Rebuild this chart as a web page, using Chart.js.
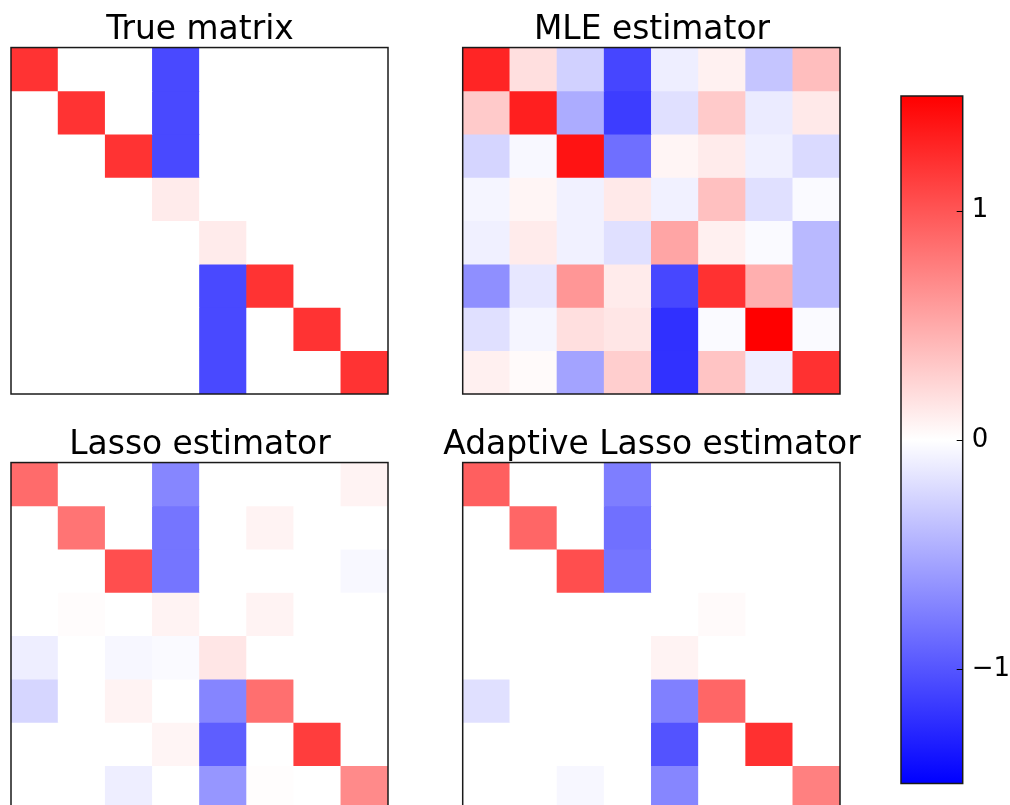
<!DOCTYPE html>
<html>
<head>
<meta charset="utf-8">
<script src="https://cdn.jsdelivr.net/npm/chart.js@4.4.0/dist/chart.umd.min.js"></script>
<style>
html, body { margin: 0; padding: 0; background: #fff; overflow: hidden; width: 1010px; height: 805px; }
canvas { position: absolute; }
</style>
</head>
<body>
<canvas id="true-chart" width="400" height="400" style="left:0px;top:0px"></canvas>
<canvas id="mle-chart" width="440" height="400" style="left:432px;top:0px"></canvas>
<canvas id="lasso-chart" width="400" height="400" style="left:0px;top:415px"></canvas>
<canvas id="adaptive-chart" width="440" height="400" style="left:432px;top:415px"></canvas>
<canvas id="colorbar" width="120" height="720" style="left:890px;top:80px"></canvas>
<script>
const columns = ['0', '1', '2', '3', '4', '5', '6', '7'];

const trueMatrix = [
    [1.2, 0, 0, -1.07, 0, 0, 0, 0],
    [0, 1.2, 0, -1.07, 0, 0, 0, 0],
    [0, 0, 1.2, -1.07, 0, 0, 0, 0],
    [0, 0, 0, 0.12, 0, 0, 0, 0],
    [0, 0, 0, 0, 0.12, 0, 0, 0],
    [0, 0, 0, 0, -1.07, 1.2, 0, 0],
    [0, 0, 0, 0, -1.07, 0, 1.2, 0],
    [0, 0, 0, 0, -1.07, 0, 0, 1.2]
];

const mleMatrix = [
    [1.28, 0.19, -0.27, -1.09, -0.10, 0.08, -0.34, 0.38],
    [0.31, 1.32, -0.49, -1.14, -0.18, 0.31, -0.12, 0.13],
    [-0.25, -0.04, 1.39, -0.85, 0.06, 0.12, -0.09, -0.22],
    [-0.06, 0.06, -0.08, 0.13, -0.08, 0.37, -0.18, -0.03],
    [-0.09, 0.12, -0.08, -0.18, 0.53, 0.09, -0.03, -0.41],
    [-0.66, -0.14, 0.62, 0.12, -1.08, 1.21, 0.47, -0.41],
    [-0.18, -0.06, 0.19, 0.15, -1.22, -0.03, 1.5, -0.03],
    [0.09, 0.03, -0.54, 0.29, -1.21, 0.35, -0.10, 1.21]
];

const lassoMatrix = [
    [0.87, 0, 0, -0.71, 0, 0, 0, 0.07],
    [0, 0.82, 0, -0.81, 0, 0.07, 0, 0],
    [0, 0, 1.04, -0.81, 0, 0, 0, -0.04],
    [0, 0.02, 0, 0.07, 0, 0.07, 0, 0],
    [-0.10, 0, -0.05, -0.03, 0.15, 0, 0, 0],
    [-0.24, 0, 0.07, 0, -0.72, 0.85, 0, 0],
    [0, 0, 0, 0.06, -0.95, 0, 1.14, 0],
    [0, 0, -0.10, 0, -0.62, 0.01, 0, 0.69]
];

const adaptiveMatrix = [
    [0.94, 0, 0, -0.76, 0, 0, 0, 0],
    [0, 0.90, 0, -0.84, 0, 0, 0, 0],
    [0, 0, 1.04, -0.81, 0, 0, 0, 0],
    [0, 0, 0, 0, 0, 0.03, 0, 0],
    [0, 0, 0, 0, 0.07, 0, 0, 0],
    [-0.18, 0, 0, 0, -0.75, 0.90, 0, 0],
    [0, 0, 0, 0, -1.01, 0, 1.22, 0],
    [0, 0, -0.05, 0, -0.71, 0, 0, 0.75]
];

const colorMin = -1.5;
const colorMax = 1.5;
const colorbarTicks = [-1, 0, 1];
// bwr colormap: blue -> white -> red
const cmapStops = [[0, 0, 255], [255, 255, 255], [255, 0, 0]];

const fontFamily = "'DejaVu Sans', sans-serif";

function bwr(v) {
    let t = (v - colorMin) / (colorMax - colorMin);
    t = Math.min(1, Math.max(0, t)) * 2;
    const i = t < 1 ? 0 : 1;
    const f = t - i;
    const a = cmapStops[i], b = cmapStops[i + 1];
    const rgb = a.map((c, k) => Math.round(c + (b[k] - c) * f));
    return `rgb(${rgb[0]}, ${rgb[1]}, ${rgb[2]})`;
}

// box around each plot area
const framePlugin = {
    id: 'frame',
    afterDraw(chart) {
        const a = chart.chartArea;
        const ctx = chart.ctx;
        ctx.save();
        ctx.strokeStyle = '#1a1a1a';
        ctx.lineWidth = 1.5;
        ctx.strokeRect(a.left, a.top, a.right - a.left, a.bottom - a.top);
        ctx.restore();
    }
};

// empty axis that only reserves a fixed width beside the plot
function spacer(width) {
    return {
        afterFit: scale => {
            scale.width = width;
            scale.paddingTop = 0;
            scale.paddingBottom = 0;
        },
        grid: { display: false, drawTicks: false },
        border: { display: false },
        ticks: { display: false }
    };
}

function makeHeatmap(id, title, matrix, padLeft, padRight) {
    // one floating bar per cell, one dataset per row
    const datasets = matrix.map((row, r) => ({
        data: columns.map(() => [r, r + 1]),
        backgroundColor: row.map(bwr),
        borderWidth: 0,
        grouped: false,
        barPercentage: 1,
        categoryPercentage: 1
    }));

    return new Chart(document.getElementById(id).getContext('2d'), {
        type: 'bar',
        data: { labels: columns, datasets: datasets },
        options: {
            responsive: false,
            animation: false,
            devicePixelRatio: 1,
            layout: { padding: { left: 0, right: 0, top: 0, bottom: 6 } },
            plugins: {
                legend: { display: false },
                tooltip: { enabled: false },
                title: {
                    display: true,
                    text: title,
                    color: '#000',
                    font: { family: fontFamily, size: 32.9, weight: 'normal', lineHeight: 1.05 },
                    padding: { top: 13, bottom: 0 }
                }
            },
            scales: {
                x: { type: 'category', display: false, offset: true },
                y: Object.assign({ type: 'linear', min: 0, max: matrix.length, reverse: true, position: 'left' }, spacer(padLeft)),
                yRight: Object.assign({ type: 'linear', position: 'right' }, spacer(padRight))
            }
        },
        plugins: [framePlugin]
    });
}

makeHeatmap('true-chart', 'True matrix', trueMatrix, 11, 12);
makeHeatmap('mle-chart', 'MLE estimator', mleMatrix, 30.7, 32);
makeHeatmap('lasso-chart', 'Lasso estimator', lassoMatrix, 11, 12);
makeHeatmap('adaptive-chart', 'Adaptive Lasso estimator', adaptiveMatrix, 30.7, 32);

// short inward tick marks on the colorbar
const innerTicks = {
    id: 'innerTicks',
    afterDraw(chart) {
        const y = chart.scales.y;
        const right = chart.chartArea.right;
        const ctx = chart.ctx;
        ctx.save();
        ctx.strokeStyle = '#000';
        ctx.lineWidth = 1;
        y.ticks.forEach(t => {
            const py = Math.round(y.getPixelForValue(t.value)) + 0.5;
            ctx.beginPath();
            ctx.moveTo(right - 6, py);
            ctx.lineTo(right, py);
            ctx.stroke();
        });
        ctx.restore();
    }
};

new Chart(document.getElementById('colorbar').getContext('2d'), {
    type: 'bar',
    data: {
        labels: ['colorbar'],
        datasets: [{
            data: [[colorMin, colorMax]],
            backgroundColor: c => {
                const chart = c.chart;
                if (!chart.chartArea) return '#fff';
                const y = chart.scales.y;
                const g = chart.ctx.createLinearGradient(0, y.getPixelForValue(colorMin), 0, y.getPixelForValue(colorMax));
                cmapStops.forEach((s, i) => g.addColorStop(i / (cmapStops.length - 1), `rgb(${s[0]}, ${s[1]}, ${s[2]})`));
                return g;
            },
            borderWidth: 0,
            barPercentage: 1,
            categoryPercentage: 1
        }]
    },
    options: {
        responsive: false,
        animation: false,
        devicePixelRatio: 1,
        layout: { padding: { left: 11, right: 0, top: 16, bottom: 16.5 } },
        plugins: { legend: { display: false }, tooltip: { enabled: false } },
        scales: {
            x: { display: false },
            y: {
                position: 'right',
                min: colorMin,
                max: colorMax,
                afterBuildTicks: scale => { scale.ticks = colorbarTicks.map(v => ({ value: v })); },
                afterFit: scale => {
                    scale.width = 47.3;
                    scale.paddingTop = 0;
                    scale.paddingBottom = 0;
                },
                grid: { display: false, drawTicks: false },
                border: { display: false },
                ticks: {
                    color: '#000',
                    padding: 9,
                    font: { family: fontFamily, size: 26 },
                    callback: v => v < 0 ? '\u2212' + Math.abs(v) : String(v)
                }
            }
        }
    },
    plugins: [framePlugin, innerTicks]
});
</script>
</body>
</html>
